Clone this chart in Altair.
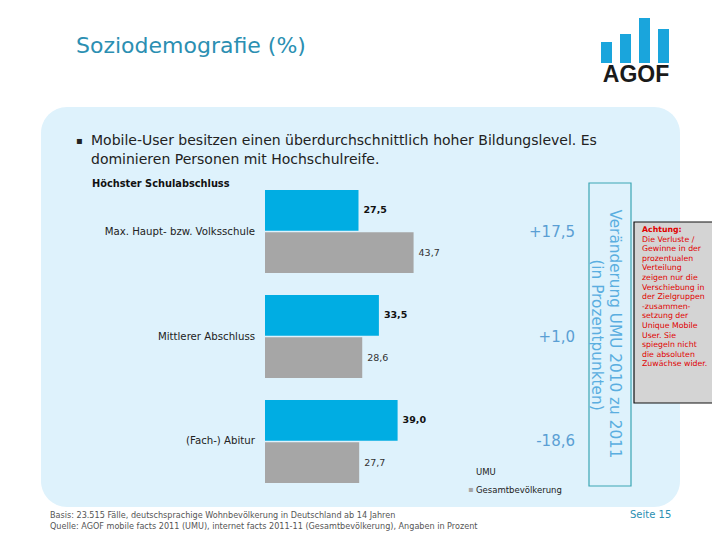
import altair as alt
import pandas as pd

# ---------------- data ----------------
categories = ["Max. Haupt- bzw. Volksschule", "Mittlerer Abschluss", "(Fach-) Abitur"]
series = ["UMU", "Gesamtbevölkerung"]
umu = [27.5, 33.5, 39.0]
gesamt = [43.7, 28.6, 27.7]
changes = ["+17,5", "+1,0", "-18,6"]

title_text = "Soziodemografie (%)"
bullet_lines = [
    "Mobile-User besitzen einen überdurchschnittlich hoher Bildungslevel. Es",
    "dominieren Personen mit Hochschulreife.",
]
subtitle = "Höchster Schulabschluss"
axis_title_1 = "Veränderung UMU 2010 zu 2011"
axis_title_2 = "(in Prozentpunkten)"
note_head = "Achtung:"
note_lines = [
    "Die Verluste /", "Gewinne in der", "prozentualen", "Verteilung",
    "zeigen nur die", "Verschiebung in", "der Zielgruppen", "-zusammen-",
    "setzung der", "Unique Mobile", "User. Sie", "spiegeln nicht",
    "die absoluten", "Zuwächse wider.",
]
footer_lines = [
    "Basis: 23.515 Fälle, deutschsprachige Wohnbevölkerung in Deutschland ab 14 Jahren",
    "Quelle: AGOF mobile facts 2011 (UMU), internet facts 2011-11 (Gesamtbevölkerung), Angaben in Prozent",
]
page_text = "Seite 15"


def fmt(v):
    return f"{v:.1f}".replace(".", ",")


rows = []
for c, u, g in zip(categories, umu, gesamt):
    rows.append({"category": c, "series": series[0], "value": u, "label": fmt(u)})
    rows.append({"category": c, "series": series[1], "value": g, "label": fmt(g)})
df = pd.DataFrame(rows)
chg = pd.DataFrame({"category": categories, "change": changes})
cat_df = pd.DataFrame({"category": categories})
one = pd.DataFrame({"d": [0]})

BLUE = "#00ade3"
GRAY = "#a6a6a6"
TEAL = "#2b8fb2"
FONT = "DejaVu Sans"
OFF = 8  # page margin


def rect(x1, y1, x2, y2, **kw):
    return alt.Chart(one).mark_rect(**kw).encode(
        x=alt.value(x1 - OFF), x2=alt.value(x2 - OFF),
        y=alt.value(y1 - OFF), y2=alt.value(y2 - OFF))


def txt(s, x, y, **kw):
    kw.setdefault("font", FONT)
    kw.setdefault("baseline", "middle")
    kw.setdefault("align", "left")
    return alt.Chart(one).mark_text(text=s, **kw).encode(
        x=alt.value(x - OFF), y=alt.value(y - OFF))


xscale = alt.Scale(domain=[0, 100], range=[265 - OFF, 605 - OFF], nice=False, zero=True)
yscale = alt.Scale(domain=categories, range=[190 - OFF, 483 - OFF],
                   paddingInner=0.2095, paddingOuter=0)
yoff_scale = alt.Scale(domain=series, paddingInner=0.03, paddingOuter=0)

Y = alt.Y("category:N", sort=categories, scale=yscale, axis=None)
YO = alt.YOffset("series:N", sort=series, scale=yoff_scale)
XQ = alt.X("value:Q", scale=xscale, axis=None)

bars = alt.Chart(df).mark_bar().encode(
    x=XQ, y=Y, yOffset=YO,
    color=alt.Color("series:N", sort=series,
                    scale=alt.Scale(domain=series, range=[BLUE, GRAY]), legend=None),
)

lab_umu = alt.Chart(df).transform_filter(alt.datum.series == series[0]).mark_text(
    align="left", baseline="middle", dx=5, font=FONT, fontSize=9.5,
    fontWeight="bold", color="#111"
).encode(x=XQ, y=Y, yOffset=YO, text="label:N")

lab_ges = alt.Chart(df).transform_filter(alt.datum.series == series[1]).mark_text(
    align="left", baseline="middle", dx=5, font=FONT, fontSize=9.5, color="#333"
).encode(x=XQ, y=Y, yOffset=YO, text="label:N")

cat_labels = alt.Chart(cat_df).mark_text(
    align="right", baseline="middle", font=FONT, fontSize=10.2, color="#222"
).encode(x=alt.value(255 - OFF), y=Y, text="category:N")

chg_labels = alt.Chart(chg).mark_text(
    align="right", baseline="middle", font=FONT, fontSize=15, color="#5a9fd4"
).encode(x=alt.value(575 - OFF), y=Y, text="change:N")

layers = []
# background panel
layers.append(rect(41, 107, 680, 507, color="#def2fc", cornerRadius=26))
# title
layers.append(txt(title_text, 76, 46, fontSize=22, color=TEAL))
# logo
logo_bars = [(601, 42), (620, 34), (639, 18), (658, 29)]
for lx, top in logo_bars:
    layers.append(rect(lx, top, lx + 11, 63, color="#1aa5dc"))
layers.append(txt("AGOF", 636, 75, fontSize=23, fontWeight="bold", color="#1a1a1a",
                  align="center", font="Liberation Sans"))
# bullet text
layers.append(txt("▪", 76, 141, fontSize=10, color="#222"))
layers.append(txt(bullet_lines[0], 91, 141, fontSize=14, color="#222"))
layers.append(txt(bullet_lines[1], 91, 160, fontSize=14, color="#222"))
layers.append(txt(subtitle, 92, 184, fontSize=9.8, fontWeight="bold", color="#111"))
# change axis box
layers.append(rect(589, 183, 631, 486, fill="transparent", stroke="#3aa6b4", strokeWidth=1.2))
layers.append(txt(axis_title_1, 615, 334, fontSize=15.3, color="#5aaee0", angle=90, align="center"))
layers.append(txt(axis_title_2, 597, 335, fontSize=15.3, color="#5aaee0", angle=90, align="center"))
# note box
layers.append(rect(634, 222, 713, 403, fill="#d4d4d4", stroke="#111", strokeWidth=1.2))
layers.append(txt(note_head, 642, 230, fontSize=7.8, fontWeight="bold", color="#e00000"))
layers.append(txt(note_lines, 642, 239.6, fontSize=7.8, color="#e00000", lineHeight=9.6,
                  baseline="middle"))
# legend
layers.append(txt(series[0], 476, 472, fontSize=8.5, color="#222"))
layers.append(txt("▪", 468, 490, fontSize=8, color=GRAY))
layers.append(txt(series[1], 476, 490, fontSize=8.5, color="#222"))
# footer
layers.append(txt(footer_lines[0], 50, 516, fontSize=8.1, color="#555"))
layers.append(txt(footer_lines[1], 50, 527, fontSize=8.1, color="#555"))
layers.append(txt(page_text, 630, 515, fontSize=10, color=TEAL))

chart = alt.layer(
    *layers[:1], bars, lab_umu, lab_ges, cat_labels, chg_labels, *layers[1:]
).properties(
    width=704, height=524, padding=0,
    autosize=alt.AutoSizeParams(type="none"),
    background="white",
).configure_view(stroke=None)

chart.save("out.html", embed_options={"renderer": "svg", "actions": False})
